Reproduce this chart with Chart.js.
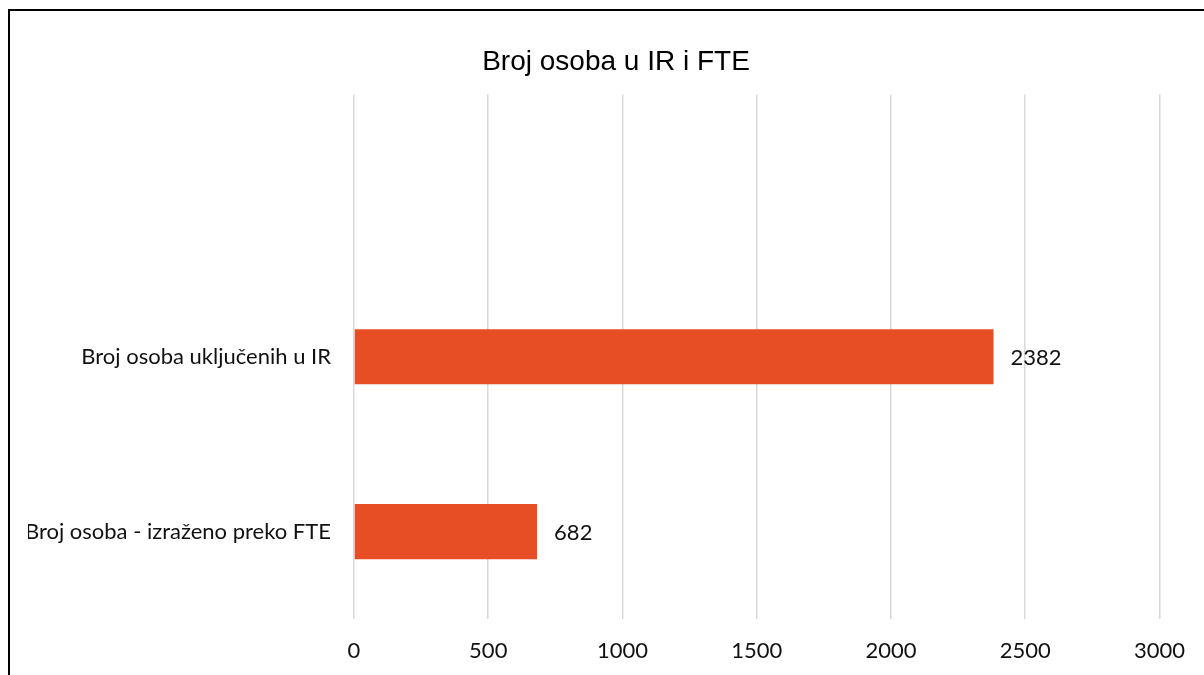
<!DOCTYPE html>
<html>
<head>
<meta charset="utf-8">
<script src="https://cdn.jsdelivr.net/npm/chart.js@4"></script>
<style>
  html, body { margin: 0; padding: 0; background: #fff; overflow: hidden; }
  #wrap { position: absolute; left: 0; top: 0; width: 1204px; height: 675px; }
  #frame { position: absolute; left: 8px; top: 9px; width: 1400px; height: 900px; border: 2px solid #000; pointer-events: none; }
</style>
</head>
<body>
<div id="wrap"><canvas id="grafico" width="1204" height="675"></canvas></div>
<div id="frame"></div>
<script>
// categories (first one is the empty slot at the top of the Excel chart)
const kategorije = ['', 'Broj osoba uključenih u IR', 'Broj osoba - izraženo preko FTE'];
const vrijednosti = [null, 2382, 682];
const xTicks = [0, 500, 1000, 1500, 2000, 2500, 3000];
const naslov = 'Broj osoba u IR i FTE';

const boja = '#e84e25';
const tekstFont = 'Lato, "Open Sans", sans-serif';

// draws the value to the right of each bar
const valueLabels = {
  id: 'valueLabels',
  afterDatasetsDraw(chart) {
    const ctx = chart.ctx;
    const meta = chart.getDatasetMeta(0);
    ctx.save();
    ctx.font = '22px ' + tekstFont;
    ctx.fillStyle = '#111';
    ctx.textAlign = 'left';
    ctx.textBaseline = 'middle';
    meta.data.forEach((bar, i) => {
      const v = vrijednosti[i];
      if (v === null) return;
      ctx.fillText(String(v), bar.x + 17, bar.y + 1);
    });
    ctx.restore();
  }
};

new Chart(document.getElementById('grafico').getContext('2d'), {
  type: 'bar',
  data: {
    labels: kategorije,
    datasets: [{
      data: vrijednosti,
      xAxisID: 'x',
      yAxisID: 'y',
      backgroundColor: boja,
      borderWidth: 0,
      categoryPercentage: 1,
      barPercentage: 0.315
    }]
  },
  options: {
    indexAxis: 'y',
    responsive: false,
    animation: false,
    layout: { padding: { top: 0, right: 0, bottom: 0, left: 28 } },
    plugins: {
      legend: { display: false },
      tooltip: { enabled: false },
      title: {
        display: true,
        text: naslov,
        color: '#000',
        font: { family: '"Liberation Sans", Arial, sans-serif', size: 28, weight: 'normal', lineHeight: 1.2 },
        padding: { top: 45, bottom: 16 }
      }
    },
    scales: {
      x: {
        min: 0,
        max: 3000,
        afterBuildTicks: scale => { scale.ticks = xTicks.map(v => ({ value: v })); },
        afterFit: scale => { scale.height = 56; },
        grid: { color: '#d9d9d9', lineWidth: 1.5, drawTicks: false },
        border: { display: false },
        ticks: {
          color: '#111',
          padding: 19,
          font: { family: tekstFont, size: 22, lineHeight: 1.2 },
          callback: value => String(value)
        }
      },
      y: {
        grid: { display: false, drawTicks: false },
        border: { display: false },
        afterFit: scale => { scale.width = 326; },
        ticks: { color: '#111', padding: 23, font: { family: tekstFont, size: 22, lineHeight: 1.2 } }
      },
      // empty strip on the right so the plot ends where the reference does
      yRight: {
        type: 'category',
        position: 'right',
        grid: { display: false, drawTicks: false },
        border: { display: false },
        ticks: { display: false },
        afterFit: scale => { scale.width = 43; }
      }
    }
  },
  plugins: [valueLabels]
});
</script>
</body>
</html>
